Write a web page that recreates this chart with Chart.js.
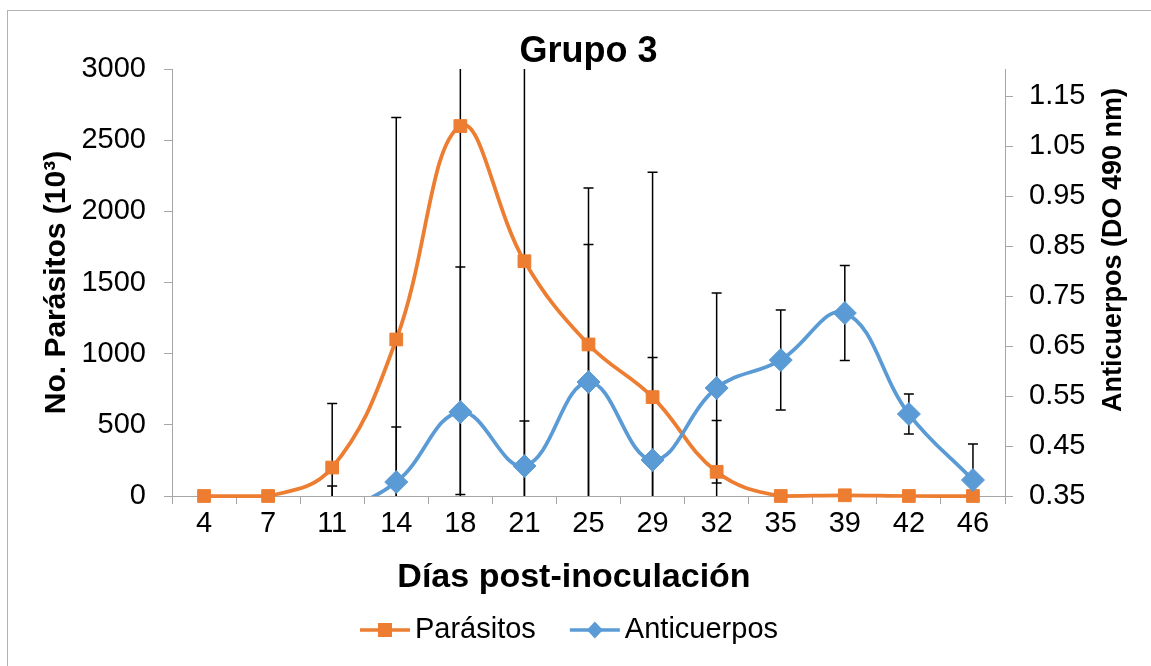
<!DOCTYPE html>
<html>
<head>
<meta charset="utf-8">
<title>Grupo 3</title>
<script src="https://cdn.jsdelivr.net/npm/chart.js@4.4.1/dist/chart.umd.min.js"></script>
<style>
  html, body { margin: 0; padding: 0; background: #fff; overflow: hidden; }
  #marco { position: absolute; left: 7px; top: 10px; width: 1200px; height: 700px; border: 1px solid #b3b3b3; }
  #grupo3 { position: absolute; left: 0; top: 0; }
</style>
</head>
<body>
<div id="marco"></div>
<canvas id="grupo3" width="1151" height="666"></canvas>
<script>
// Días post-inoculación
const dias = ['4', '7', '11', '14', '18', '21', '25', '29', '32', '35', '39', '42', '46'];

// Parásitos (x10^3) y su desviación
const parasitos   = [0, 0, 200, 1100, 2600, 1650, 1065, 695, 170, 0, 5, 0, 0];
const parasitosDE = [0, 0, 450, 1560, 2590, 1700, 1100, 1580, 360, 0, 0, 0, 0];

// Anticuerpos (DO 490 nm) y su desviación
const anticuerpos   = [0.31, 0.31, 0.32, 0.378, 0.518, 0.41, 0.578, 0.422, 0.566, 0.622, 0.716, 0.514, 0.382];
const anticuerposDE = [0.02, 0.02, 0.05, 0.11, 0.29, 0.09, 0.275, 0.205, 0.19, 0.10, 0.095, 0.04, 0.072];

// marcas del eje derecho
const ticksDO = [0.35, 0.45, 0.55, 0.65, 0.75, 0.85, 0.95, 1.05, 1.15];

const naranja = '#ED7D31';
const azul = '#5B9BD5';
const gris = '#A6A6A6';
const fuente = "'Liberation Sans', Arial, sans-serif";

Chart.defaults.font.family = fuente;
Chart.defaults.color = '#000';

// barras de error, recortadas al área del gráfico
const barrasError = {
  id: 'barrasError',
  beforeDatasetsDraw(chart) {
    const { ctx, chartArea: a } = chart;
    ctx.save();
    ctx.beginPath();
    ctx.rect(a.left, a.top, a.right - a.left, a.bottom - a.top);
    ctx.clip();
    ctx.strokeStyle = '#000';
    ctx.lineWidth = 1.5;
    chart.data.datasets.forEach((ds, d) => {
      const meta = chart.getDatasetMeta(d);
      const escala = chart.scales[ds.yAxisID];
      ds.desviacion.forEach((e, i) => {
        if (!e) return;
        const x = meta.data[i].x;
        const y1 = escala.getPixelForValue(ds.data[i] + e);
        const y2 = escala.getPixelForValue(ds.data[i] - e);
        ctx.beginPath();
        ctx.moveTo(x, y1); ctx.lineTo(x, y2);
        ctx.moveTo(x - 5, y1); ctx.lineTo(x + 5, y1);
        ctx.moveTo(x - 5, y2); ctx.lineTo(x + 5, y2);
        ctx.stroke();
      });
    });
    ctx.restore();
  }
};

// leyenda con línea y marcador, título del eje X y título del eje derecho (de abajo hacia arriba)
const leyenda = {
  id: 'leyenda',
  afterDraw(chart) {
    const { ctx } = chart;
    ctx.save();
    ctx.font = '29px ' + fuente;
    ctx.textBaseline = 'middle';
    ctx.textAlign = 'left';
    const y = 630;
    const items = chart.data.datasets.map(ds => ({ ds, w: ctx.measureText(ds.label).width }));
    const total = items.reduce((s, it) => s + 55 + it.w, 0) + 34 * (items.length - 1);
    let x = 569 - total / 2;
    items.forEach(({ ds, w }) => {
      ctx.strokeStyle = ds.borderColor;
      ctx.lineWidth = 3.5;
      ctx.beginPath();
      ctx.moveTo(x, y); ctx.lineTo(x + 50, y);
      ctx.stroke();
      ctx.fillStyle = ds.borderColor;
      const cx = x + 25;
      if (ds.pointStyle === 'rect') {
        ctx.fillRect(cx - 7, y - 7, 14, 14);
      } else {
        ctx.beginPath();
        ctx.moveTo(cx - 8, y); ctx.lineTo(cx, y - 8.5);
        ctx.lineTo(cx + 8, y); ctx.lineTo(cx, y + 8.5);
        ctx.closePath();
        ctx.fill();
      }
      ctx.fillStyle = '#000';
      ctx.fillText(ds.label, x + 55, y);
      x += 55 + w + 34;
    });

    ctx.font = 'bold 34px ' + fuente;
    ctx.textAlign = 'center';
    ctx.fillText('Días post-inoculación', 574, 578);

    ctx.font = 'bold 27px ' + fuente;
    ctx.translate(1114, 250);
    ctx.rotate(-Math.PI / 2);
    ctx.fillText('Anticuerpos (DO 490 nm)', 0, 0);
    ctx.restore();
  }
};

new Chart(document.getElementById('grupo3'), {
  type: 'line',
  data: {
    labels: dias,
    datasets: [{
      label: 'Parásitos',
      data: parasitos,
      desviacion: parasitosDE,
      yAxisID: 'yP',
      borderColor: naranja,
      backgroundColor: naranja,
      borderWidth: 3.75,
      pointStyle: 'rect',
      pointRadius: 9,
      pointBackgroundColor: naranja,
      pointBorderColor: naranja,
      pointBorderWidth: 1,
      tension: 0.4,
      clip: { left: 10, right: 10, top: 0, bottom: 10 },
      order: 1
    }, {
      label: 'Anticuerpos',
      data: anticuerpos,
      desviacion: anticuerposDE,
      yAxisID: 'yA',
      borderColor: azul,
      backgroundColor: azul,
      borderWidth: 3.75,
      pointStyle: 'rectRot',
      pointRadius: 11.5,
      pointBackgroundColor: azul,
      pointBorderColor: azul,
      pointBorderWidth: 1,
      tension: 0.4,
      capBezierPoints: false,
      clip: 0,
      order: 0
    }]
  },
  options: {
    responsive: false,
    animation: false,
    layout: { padding: { left: 0, right: 0, top: 0, bottom: 60 } },
    plugins: {
      legend: { display: false },
      tooltip: { enabled: false },
      title: {
        display: true,
        text: 'Grupo 3',
        fullSize: false,
        color: '#000',
        font: { size: 36, weight: 'bold', lineHeight: 0.92 },
        padding: { top: 36, bottom: 0 }
      }
    },
    scales: {
      x: {
        type: 'category',
        offset: true,
        grid: { offset: true, drawOnChartArea: false, tickLength: 8, color: gris },
        border: { color: gris },
        ticks: { font: { size: 29 }, padding: 3, color: '#000', maxRotation: 0, autoSkip: false },
        afterFit: s => { s.height = 110; }
      },
      yP: {
        position: 'left',
        min: 0,
        max: 3000,
        grid: { drawOnChartArea: false, tickLength: 8, color: gris },
        border: { color: gris },
        ticks: { stepSize: 500, font: { size: 29 }, padding: 18, color: '#000', callback: v => String(v) },
        title: {
          display: true,
          text: 'No. Parásitos (10³)',
          color: '#000',
          font: { size: 30, weight: 'bold' },
          padding: { top: 39, bottom: 0 }
        },
        afterFit: s => { s.width = 172; }
      },
      yA: {
        position: 'right',
        min: 0.35,
        max: 1.204,
        grid: { drawOnChartArea: false, tickLength: 8, color: gris },
        border: { color: gris },
        afterBuildTicks: s => { s.ticks = ticksDO.map(v => ({ value: v })); },
        ticks: { font: { size: 29 }, padding: 16, color: '#000', callback: v => v.toFixed(2) },
        afterFit: s => { s.width = 146; }
      }
    }
  },
  plugins: [barrasError, leyenda]
});
</script>
</body>
</html>
